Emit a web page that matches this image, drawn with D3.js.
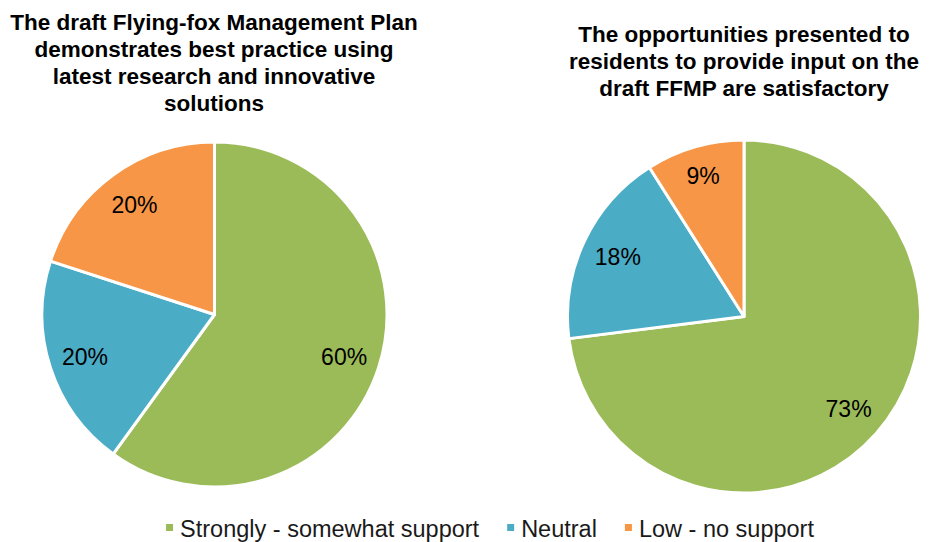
<!DOCTYPE html>
<html>
<head>
<meta charset="utf-8">
<script src="https://cdn.jsdelivr.net/npm/d3@7"></script>
<style>
  body { margin: 0; background: #fff; }
  text { font-family: "Liberation Sans", Arial, sans-serif; }
</style>
</head>
<body>
<div id="chart"></div>
<script>
// categories and colours
const categories = ['Strongly - somewhat support', 'Neutral', 'Low - no support'];
const colors = ['#9BBB59', '#4BACC6', '#F79646'];

// series values (percent)
const planValues = [60, 20, 20];
const inputValues = [73, 18, 9];

// titles
const planTitle = ['The draft Flying-fox Management Plan', 'demonstrates best practice using', 'latest research and innovative', 'solutions'];
const inputTitle = ['The opportunities presented to', 'residents to provide input on the', 'draft FFMP are satisfactory'];

const width = 933, height = 542;

const svg = d3.select('#chart')
  .append('svg')
  .attr('width', width)
  .attr('height', height);

const color = d3.scaleOrdinal(categories, colors);

const pie = d3.pie().sort(null).value(d => d.value);

// draw one pie with its title
function drawPie(values, title, cx, cy, radius, titleX, titleY) {
  const data = values.map((v, i) => ({ name: categories[i], value: v }));

  const arc = d3.arc().innerRadius(0).outerRadius(radius);
  // small slices get their label pushed a bit further out, like Excel does
  const labelArc = d => {
    const share = d.data.value / d3.sum(values);
    const r = radius * (share < 0.12 ? 0.83 : 0.79);
    return d3.arc().innerRadius(r).outerRadius(r).centroid(d);
  };

  const g = svg.append('g')
    .attr('transform', 'translate(' + cx + ',' + cy + ')');

  const slices = g.selectAll('.arc')
    .data(pie(data))
    .enter().append('g')
    .attr('class', 'arc');

  slices.append('path')
    .attr('d', arc)
    .attr('fill', d => color(d.data.name))
    .attr('stroke', '#fff')
    .attr('stroke-width', 3)
    .attr('stroke-linejoin', 'round');

  slices.append('text')
    .attr('transform', d => 'translate(' + labelArc(d) + ')')
    .attr('text-anchor', 'middle')
    .attr('dy', '0.36em')
    .attr('font-size', '23px')
    .attr('fill', '#000')
    .text(d => d.data.value + '%');

  svg.append('text')
    .attr('x', titleX)
    .attr('y', titleY)
    .attr('text-anchor', 'middle')
    .attr('font-size', '22.5px')
    .attr('font-weight', 'bold')
    .attr('fill', '#000')
    .selectAll('tspan')
    .data(title)
    .enter().append('tspan')
    .attr('x', titleX)
    .attr('dy', (d, i) => i === 0 ? 0 : 27)
    .text(d => d);
}

drawPie(planValues, planTitle, 214.5, 314.5, 172.5, 214, 30);
drawPie(inputValues, inputTitle, 744, 316.5, 176.5, 744, 42);

// legend, centred under both pies
const legend = svg.append('g');
const items = legend.selectAll('.item')
  .data(categories)
  .enter().append('g')
  .attr('class', 'item');

items.append('rect')
  .attr('width', 7)
  .attr('height', 7)
  .attr('y', 524)
  .attr('fill', d => color(d));

items.append('text')
  .attr('x', 14)
  .attr('y', 537)
  .attr('font-size', '23.5px')
  .attr('fill', '#1a1a1a')
  .text(d => d);

let x = 0;
items.each(function () {
  const w = d3.select(this).select('text').node().getComputedTextLength();
  d3.select(this).attr('transform', 'translate(' + x + ',0)');
  x += 14 + w + 28;
});
const total = x - 28;
legend.attr('transform', 'translate(' + (490 - total / 2) + ',0)');
</script>
</body>
</html>
